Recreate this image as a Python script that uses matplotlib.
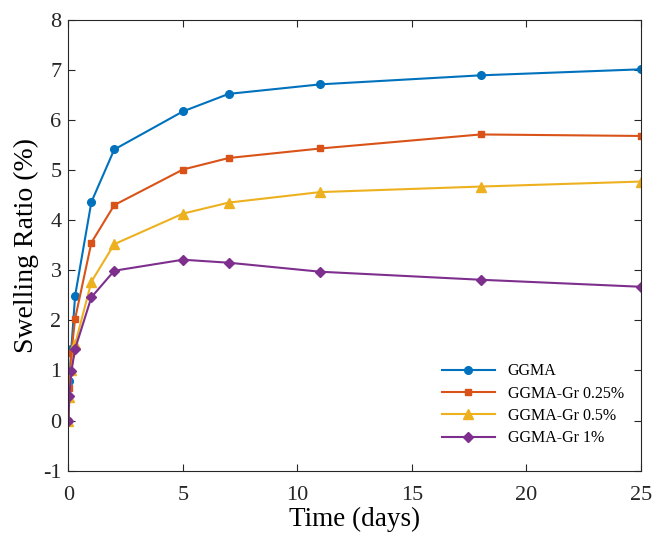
import numpy as np
import matplotlib
matplotlib.use("Agg")
import matplotlib.pyplot as plt

plt.rcParams['font.family'] = ['Liberation Serif', 'DejaVu Serif']
plt.rcParams['axes.unicode_minus'] = False

# sampling times (days)
t = [0, 0.04, 0.125, 0.29, 1, 2, 5, 7, 11, 18, 25]

ggma = [0, 0.78, 1.43, 2.49, 4.36, 5.41, 6.17, 6.52, 6.71, 6.89, 7.01]
ggma_gr025 = [0, 0.65, 1.35, 2.03, 3.55, 4.30, 5.01, 5.24, 5.43, 5.71, 5.68]
ggma_gr05 = [0, 0.47, 1.00, 1.52, 2.77, 3.52, 4.13, 4.35, 4.56, 4.67, 4.77]
ggma_gr1 = [0, 0.49, 0.98, 1.43, 2.46, 2.99, 3.21, 3.15, 2.97, 2.81, 2.67]

labels = ['GGMA', 'GGMA-Gr 0.25%', 'GGMA-Gr 0.5%', 'GGMA-Gr 1%']
colors = ['#0072BD', '#D95319', '#EDB120', '#7E2F8E']
markers = ['o', 's', '^', 'D']
sizes = [5.5, 5, 6.5, 5]

fig = plt.figure(figsize=(6.52, 5.33), dpi=100)
ax = fig.add_axes([0.105, 0.117, 0.878, 0.846])

for y, lab, c, m, ms in zip([ggma, ggma_gr025, ggma_gr05, ggma_gr1], labels, colors, markers, sizes):
    ax.plot(t, y, color=c, marker=m, markersize=ms, linewidth=1.5, label=lab)

ax.set_xlim(0, 25)
ax.set_ylim(-1, 8)
ax.set_xticks(np.arange(0, 26, 5))
ax.set_yticks(np.arange(-1, 9, 1))
ax.tick_params(direction='in', length=5, width=0.8, labelsize=16, top=True, right=True,
               colors='#262626')
ax.tick_params(axis='x', pad=11)
ax.tick_params(axis='y', pad=5)
for s in ax.spines.values():
    s.set_color('#262626')
    s.set_linewidth(0.8)

ax.set_xlabel('Time (days)', fontsize=19.5, labelpad=1.5)
ax.set_ylabel('Swelling Ratio (%)', fontsize=20, labelpad=3)

leg = ax.legend(loc='lower right', bbox_to_anchor=(0.995, 0.022), frameon=False, fontsize=11.5,
                handlelength=3.3, labelspacing=0.4)

fig.savefig('out.png', dpi=100)
